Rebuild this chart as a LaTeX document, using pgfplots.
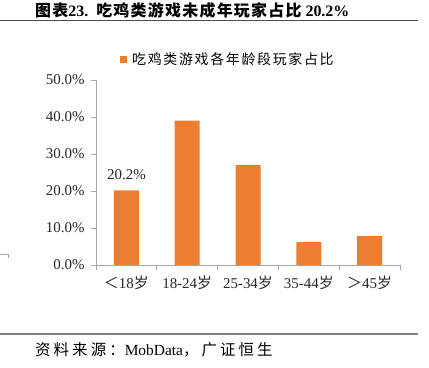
\documentclass[border=0pt]{standalone}
\usepackage{pgfplots}
\pgfplotsset{compat=1.18}
\usepackage{fontspec}
\setmainfont{Liberation Serif}
\newfontfamily\cjk[LetterSpace=12]{Noto Sans CJK SC}
\newfontfamily\cjks[LetterSpace=20]{Noto Sans CJK SC}
\newfontfamily\cjkn{Noto Sans CJK SC}
\newfontfamily\cjkt[LetterSpace=8]{Noto Sans CJK SC}
\definecolor{barorange}{HTML}{ED7D31}
\definecolor{axgray}{HTML}{A6A6A6}
\begin{document}
\begin{tikzpicture}[x=1bp,y=1bp]
\path[use as bounding box] (0,0) rectangle (429,368);
% title
\node[anchor=west,font=\fontsize{16}{18}\selectfont\bfseries, inner sep=0pt] at (35,358) {{\cjkt\bfseries 图表}23.\ \ {\cjkt\bfseries 吃鸡类游戏未成年玩家占比} 20.2\%};
\draw[line width=1.5bp,color=black!70] (0,347.5) -- (418,347.5);
% source
\draw[line width=1.5bp,color=black!50] (0,34) -- (418,34);
\node[anchor=west,font=\fontsize{15.5}{17}\selectfont, inner sep=0pt] at (35,18) {{\cjks 资料来源：}MobData{\cjks ，广证恒生}};
% small corner artifact
\draw[color=axgray,line width=0.6bp] (0,114) -- (8,114) -- (8,110);
% legend
\fill[barorange] (120,305) rectangle (127,312);
\node[anchor=west,font=\fontsize{14}{16}\selectfont\cjk, inner sep=0pt] at (132,308.5) {吃鸡类游戏各年龄段玩家占比};
\begin{axis}[
  at={(96bp,103bp)}, anchor=south west,
  scale only axis, width=304bp, height=185bp,
  xmin=-0.5, xmax=4.5, ymin=0, ymax=50,
  axis x line*=bottom, axis y line*=left,
  axis line style={color=axgray, line width=0.8bp},
  tick style={color=axgray, line width=0.8bp},
  tick align=outside, major tick length=5bp,
  /pgf/number format/assume math mode=true,
  ytick={0,10,20,30,40,50},
  yticklabels={0.0\%,10.0\%,20.0\%,30.0\%,40.0\%,50.0\%},
  xtick={-0.5,0.5,1.5,2.5,3.5,4.5},
  xticklabels={},
  extra x ticks={0,1,2,3,4},
  extra x tick labels={{\cjkn ＜}18{\cjkn 岁},18-24{\cjkn 岁},25-34{\cjkn 岁},35-44{\cjkn 岁},{\cjkn ＞}45{\cjkn 岁}},
  extra x tick style={major tick length=0pt, xticklabel style={yshift=-7bp}},
  xticklabel style={font=\fontsize{15}{17}\selectfont, color=black!85},
  yticklabel style={font=\fontsize{15}{17}\selectfont, color=black!85, xshift=-3bp},
  clip=false,
]
\addplot[ybar, bar width=25bp, fill=barorange, draw=none] coordinates {(0,20.2) (1,39.0) (2,27.0) (3,6.2) (4,7.8)};
\node[anchor=south, font=\fontsize{15}{17}\selectfont, color=black!85] at (axis cs:0,20.2) [yshift=7bp] {20.2\%};
\end{axis}
\end{tikzpicture}
\end{document}
